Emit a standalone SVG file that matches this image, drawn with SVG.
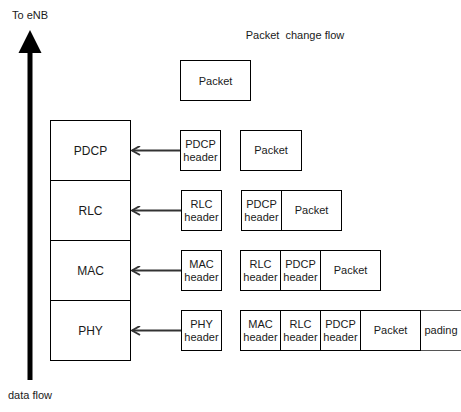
<svg xmlns="http://www.w3.org/2000/svg" width="461" height="412" viewBox="0 0 461 412">
<style>
text{font-family:"Liberation Sans",Arial,sans-serif;fill:#1a1a1a;text-anchor:middle}
.s{font-size:11px}
.l{font-size:12px}
.b{fill:#fff;stroke:#000;stroke-width:1}
.g{fill:none;stroke:#555;stroke-width:1}
.c{stroke:#333;stroke-width:2;fill:none}
</style>
<defs>
<marker id="open" viewBox="0 0 10 10" refX="9" refY="5" markerWidth="10" markerHeight="10" markerUnits="userSpaceOnUse" orient="auto">
<path d="M1,0.5 L9,5 L1,9.5" fill="none" stroke="#333" stroke-width="2"/>
</marker>
</defs>
<g id="data-flow-arrow">
<rect x="27.5" y="50" width="5" height="330" fill="#000"/>
<path d="M30,30 L41.5,53 L18.5,53 Z" fill="#000"/>
<text class="s" x="30" y="19">To eNB</text>
<text class="s" x="30" y="399">data flow</text>
</g>
<text class="s" x="295" y="39" xml:space="preserve">Packet  change flow</text>
<g id="layer-pdcp"><rect class="b" x="50.5" y="120.5" width="80" height="60"/><text class="l" x="90.5" y="155">PDCP</text></g>
<g id="layer-rlc"><rect class="b" x="50.5" y="180.5" width="80" height="60"/><text class="l" x="90.5" y="215">RLC</text></g>
<g id="layer-mac"><rect class="b" x="50.5" y="240.5" width="80" height="60"/><text class="l" x="90.5" y="275">MAC</text></g>
<g id="layer-phy"><rect class="b" x="50.5" y="300.5" width="80" height="60"/><text class="l" x="90.5" y="335">PHY</text></g>
<g id="packet-top"><rect class="b" x="180.5" y="60.5" width="70" height="40"/><text class="s" x="215.5" y="84.5">Packet</text></g>
<g id="hdr-pdcp"><rect class="b" x="180.5" y="130.5" width="40" height="40"/><text class="s" x="200.5" y="147.5">PDCP</text><text class="s" x="200.5" y="161">header</text></g>
<g id="hdr-rlc"><rect class="b" x="181.5" y="190.5" width="40" height="40"/><text class="s" x="201.5" y="207.5">RLC</text><text class="s" x="201.5" y="221">header</text></g>
<g id="hdr-mac"><rect class="b" x="181.5" y="250.5" width="40" height="40"/><text class="s" x="201.5" y="267.5">MAC</text><text class="s" x="201.5" y="281">header</text></g>
<g id="hdr-phy"><rect class="b" x="181.5" y="310.5" width="40" height="40"/><text class="s" x="201.5" y="327.5">PHY</text><text class="s" x="201.5" y="341">header</text></g>
<g id="connectors">
<line class="c" x1="180" y1="150.5" x2="132" y2="150.5" marker-end="url(#open)"/>
<line class="c" x1="181" y1="210.5" x2="132" y2="210.5" marker-end="url(#open)"/>
<line class="c" x1="181" y1="270.5" x2="132" y2="270.5" marker-end="url(#open)"/>
<line class="c" x1="181" y1="330.5" x2="132" y2="330.5" marker-end="url(#open)"/>
</g>
<g id="pdu-pdcp">
<rect class="b" x="240.5" y="130.5" width="61" height="40"/><text class="s" x="271" y="154">Packet</text>
</g>
<g id="pdu-rlc">
<rect class="b" x="241.5" y="190.5" width="40" height="40"/><text class="s" x="261.5" y="207.5">PDCP</text><text class="s" x="261.5" y="221">header</text>
<rect class="b" x="281.5" y="190.5" width="60" height="40"/><text class="s" x="311.5" y="214">Packet</text>
</g>
<g id="pdu-mac">
<rect class="b" x="240.5" y="250.5" width="40" height="40"/><text class="s" x="260.5" y="267.5">RLC</text><text class="s" x="260.5" y="281">header</text>
<rect class="b" x="280.5" y="250.5" width="40" height="40"/><text class="s" x="300.5" y="267.5">PDCP</text><text class="s" x="300.5" y="281">header</text>
<rect class="b" x="320.5" y="250.5" width="60" height="40"/><text class="s" x="350.5" y="274">Packet</text>
</g>
<g id="pdu-phy">
<rect class="g" x="420.5" y="310.5" width="60" height="40"/><text class="s" x="441" y="334">pading</text>
<rect class="b" x="240.5" y="310.5" width="40" height="40"/><text class="s" x="260.5" y="327.5">MAC</text><text class="s" x="260.5" y="341">header</text>
<rect class="b" x="280.5" y="310.5" width="40" height="40"/><text class="s" x="300.5" y="327.5">RLC</text><text class="s" x="300.5" y="341">header</text>
<rect class="b" x="320.5" y="310.5" width="40" height="40"/><text class="s" x="340.5" y="327.5">PDCP</text><text class="s" x="340.5" y="341">header</text>
<rect class="b" x="360.5" y="310.5" width="60" height="40"/><text class="s" x="390.5" y="334">Packet</text>
</g>
</svg>
